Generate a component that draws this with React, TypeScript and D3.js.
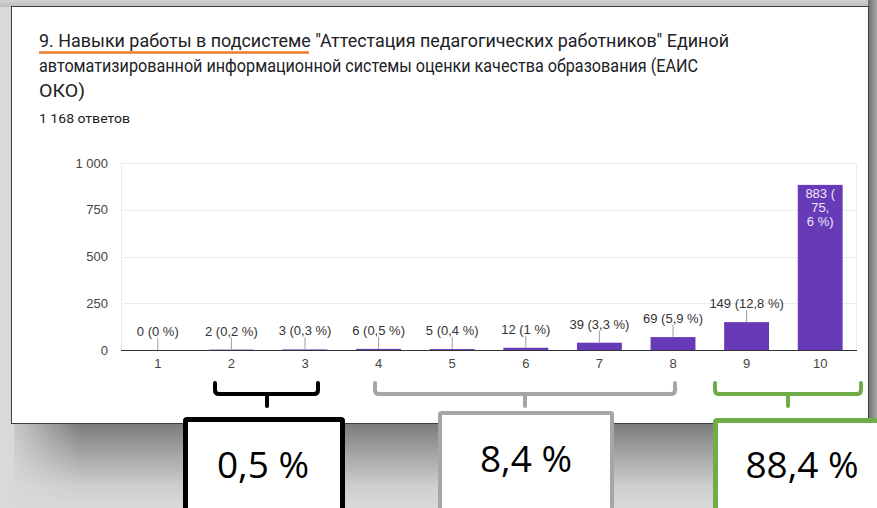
import { scaleBand, scaleLinear, formatLocale } from "d3";

const categories = ["1", "2", "3", "4", "5", "6", "7", "8", "9", "10"];
const counts = [0, 2, 3, 6, 5, 12, 39, 69, 149, 883];
const valueLabels = [
  "0 (0 %)",
  "2 (0,2 %)",
  "3 (0,3 %)",
  "6 (0,5 %)",
  "5 (0,4 %)",
  "12 (1 %)",
  "39 (3,3 %)",
  "69 (5,9 %)",
  "149 (12,8 %)",
  "883 (75,6 %)",
];
// google wraps the label of the tall bar inside it
const wrappedLabels: Record<number, string[]> = { 9: ["883 (", "75,", "6 %)"] };
const yTicks = [0, 250, 500, 750, 1000];

const titleLines = [
  "9. Навыки работы в подсистеме \"Аттестация педагогических работников\" Единой",
  "автоматизированной информационной системы оценки качества образования (ЕАИС",
  "ОКО)",
];
const responses = "1 168 ответов";

const groupLabels = ["0,5 %", "8,4 %", "88,4 %"];
const groupColors = ["#000000", "#a6a6a6", "#70ad47"];

// hand placed annotation boxes (from the slide)
const groupLayout = [
  { bx1: 215, bx2: 318, tick: 267, box: [183, 417, 162], stroke: 5, base: 478, tx: 263 },
  { bx1: 375, bx2: 675, tick: 525, box: [438, 411, 176], stroke: 4, base: 472, tx: 526 },
  { bx1: 715, bx2: 861, tick: 788, box: [713, 418, 190], stroke: 5, base: 478, tx: 802 },
];

const W = 877;
const H = 508;
const plot = { left: 121, right: 857, top: 163, bottom: 350 };

const fmt = formatLocale({ decimal: ",", thousands: " ", grouping: [3], currency: ["", ""] }).format(",d");

export default function App() {
  const x = scaleBand<string>().domain(categories).range([plot.left, plot.right]).paddingInner(0.39).paddingOuter(0.195);
  const y = scaleLinear().domain([0, 1000]).range([plot.bottom, plot.top]);
  const chartFont = "Arial, 'Liberation Sans', sans-serif";
  const fs = 13;

  return (
    <div style={{ position: "fixed", left: 0, top: 0 }}>
      <svg width={W} height={H} style={{ display: "block" }}>
        <defs>
          <linearGradient id="shadowB" x1="0" y1="0" x2="0" y2="1">
            <stop offset="0" stopColor="#7a7a7a" />
            <stop offset="0.35" stopColor="#a3a3a3" />
            <stop offset="0.75" stopColor="#cfcfcf" />
            <stop offset="1" stopColor="#d9d9d9" />
          </linearGradient>
          <linearGradient id="shadowR" x1="0" y1="0" x2="1" y2="0">
            <stop offset="0" stopColor="#6f6f6f" />
            <stop offset="1" stopColor="#a8a8a8" />
          </linearGradient>
          <linearGradient id="fadeL" x1="0" y1="0" x2="1" y2="0">
            <stop offset="0" stopColor="#d9d9d9" stopOpacity="1" />
            <stop offset="1" stopColor="#d9d9d9" stopOpacity="0" />
          </linearGradient>
          <linearGradient id="topG" x1="0" y1="0" x2="0" y2="1">
            <stop offset="0" stopColor="#d2d2d2" />
            <stop offset="1" stopColor="#bdbdbd" />
          </linearGradient>
        </defs>

        {/* slide background + card shadow */}
        <rect x={0} y={0} width={W} height={H} fill="#d9d9d9" />
        <rect x={0} y={0} width={W} height={7} fill="url(#topG)" />
        <rect x={14} y={423} width={W - 14} height={H - 423} fill="url(#shadowB)" />
        <rect x={0} y={423} width={80} height={H - 423} fill="url(#fadeL)" />
        <rect x={868} y={0} width={W - 868} height={430} fill="url(#shadowR)" />

        {/* card */}
        <rect x={11.5} y={6.5} width={857} height={417} fill="#ffffff" stroke="#3c3c3c" strokeWidth={1} />

        {/* title */}
        <g fontFamily="Roboto, sans-serif" fill="#202124">
          <text x={39} y={47} fontSize={18.5} textLength={690} lengthAdjust="spacingAndGlyphs">
            {titleLines[0]}
          </text>
          <text x={39} y={72} fontSize={18.5} textLength={659} lengthAdjust="spacingAndGlyphs">
            {titleLines[1]}
          </text>
          <text x={39} y={97} fontSize={18.5} textLength={46} lengthAdjust="spacingAndGlyphs">
            {titleLines[2]}
          </text>
          <text x={39} y={123} fontSize={12} textLength={91} lengthAdjust="spacingAndGlyphs">
            {responses}
          </text>
        </g>
        <line x1={39} x2={309} y1={52.5} y2={52.5} stroke="#f07b2b" strokeWidth={2.5} />

        {/* grid */}
        <g>
          {yTicks.map((t) => (
            <line
              key={t}
              x1={plot.left}
              x2={plot.right}
              y1={Math.round(y(t)) + 0.5}
              y2={Math.round(y(t)) + 0.5}
              stroke={t === 0 ? "#333333" : "#ebebeb"}
            />
          ))}
          <line x1={plot.left + 0.5} x2={plot.left + 0.5} y1={plot.top} y2={plot.bottom} stroke="#ebebeb" />
          <line x1={plot.right - 0.5} x2={plot.right - 0.5} y1={plot.top} y2={plot.bottom} stroke="#ebebeb" />
          {yTicks.map((t) => (
            <text key={t} x={108} y={y(t) + 4.5} textAnchor="end" fontFamily={chartFont} fontSize={fs} fill="#444444">
              {fmt(t)}
            </text>
          ))}
        </g>

        {/* bars */}
        <g>
          {categories.map((c, i) => {
            const x0 = x(c)!;
            const cx = x0 + x.bandwidth() / 2;
            const top = y(counts[i]);
            const inside = wrappedLabels[i];
            return (
              <g key={c}>
                {counts[i] > 0 && (
                  <rect x={x0} y={top} width={x.bandwidth()} height={plot.bottom - top} fill="#673ab7" />
                )}
                {inside ? (
                  inside.map((ln, k) => (
                    <text
                      key={k}
                      x={cx}
                      y={top + 13.5 + k * 14}
                      textAnchor="middle"
                      fontFamily={chartFont}
                      fontSize={fs}
                      fill="#ede7f6"
                    >
                      {ln}
                    </text>
                  ))
                ) : (
                  <>
                    <line x1={cx} x2={cx} y1={top - 12} y2={top} stroke="#9e9e9e" />
                    <text x={cx} y={top - 14} textAnchor="middle" fontFamily={chartFont} fontSize={fs} fill="#333333">
                      {valueLabels[i]}
                    </text>
                  </>
                )}
                <text x={cx} y={plot.bottom + 18} textAnchor="middle" fontFamily={chartFont} fontSize={fs} fill="#444444">
                  {c}
                </text>
              </g>
            );
          })}
        </g>

        {/* group brackets and summary boxes */}
        {groupLabels.map((lab, i) => {
          const g = groupLayout[i];
          const col = groupColors[i];
          const [bx, by, bw] = g.box;
          return (
            <g key={lab}>
              <path
                d={`M${g.bx1},383 V390 Q${g.bx1},394 ${g.bx1 + 4},394 H${g.bx2 - 4} Q${g.bx2},394 ${g.bx2},390 V383 M${g.tick},394 V406`}
                fill="none"
                stroke={col}
                strokeWidth={4}
                strokeLinecap="round"
              />
              <rect
                x={bx + g.stroke / 2}
                y={by + g.stroke / 2}
                width={bw - g.stroke}
                height={H - by + 10}
                fill="#ffffff"
                stroke={col}
                strokeWidth={g.stroke}
                rx={1.5}
              />
              <text
                x={g.tx}
                y={g.base}
                textAnchor="middle"
                fontFamily="'Open Sans', 'Noto Sans', sans-serif"
                fontSize={37}
                fill="#000000"
              >
                {lab}
              </text>
            </g>
          );
        })}
      </svg>
    </div>
  );
}
